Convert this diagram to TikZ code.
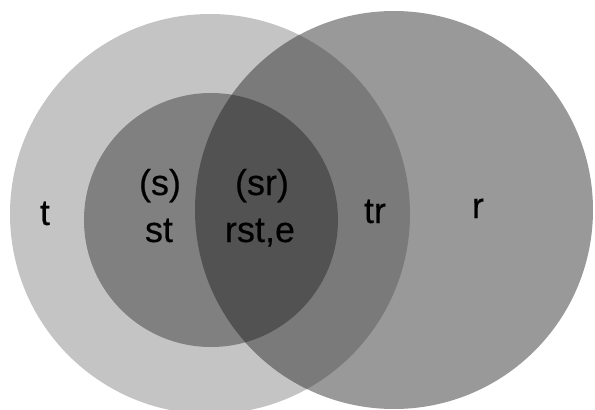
\documentclass[tikz,border=0pt]{standalone}
\usepackage{fontspec}
\setmainfont{Liberation Sans}[FakeBold=0.3]
\definecolor{cT}{RGB}{196,196,196}
\definecolor{cR}{RGB}{153,153,153}
\definecolor{cTR}{RGB}{122,122,122}
\definecolor{cS}{RGB}{128,128,128}
\definecolor{cSR}{RGB}{82,82,82}
\begin{document}
\begin{tikzpicture}[x=1pt,y=-1pt,
  lbl/.style={anchor=base,inner sep=0pt,font=\fontsize{36}{36}\selectfont,text=black}]
\useasboundingbox (0,0) rectangle (595,410);
\fill[white] (0,0) rectangle (595,410);
\begin{scope}
\clip (0,0) rectangle (595,410);
% left circle t
\fill[cT] (210,214) circle[radius=200];
% right circle r
\fill[cR] (394,210) circle[radius=199];
% t and r overlap
\begin{scope}
\clip (394,210) circle[radius=199];
\fill[cTR] (210,214) circle[radius=200];
\end{scope}
% inner circle s
\fill[cS] (211,220) circle[radius=127];
\begin{scope}
\clip (394,210) circle[radius=199];
\fill[cSR] (211,220) circle[radius=127];
\end{scope}
\end{scope}
\node[lbl] (t) at (45,225) {t};
\node[lbl] (s1) at (160,195) {(s)};
\node[lbl] (s2) at (159,242) {st};
\node[lbl] (sr1) at (262,195) {(sr)};
\node[lbl] (sr2) at (260,242) {rst,e};
\node[lbl] (tr) at (375,223) {tr};
\node[lbl] (r) at (478,218) {r};
\end{tikzpicture}
\end{document}
